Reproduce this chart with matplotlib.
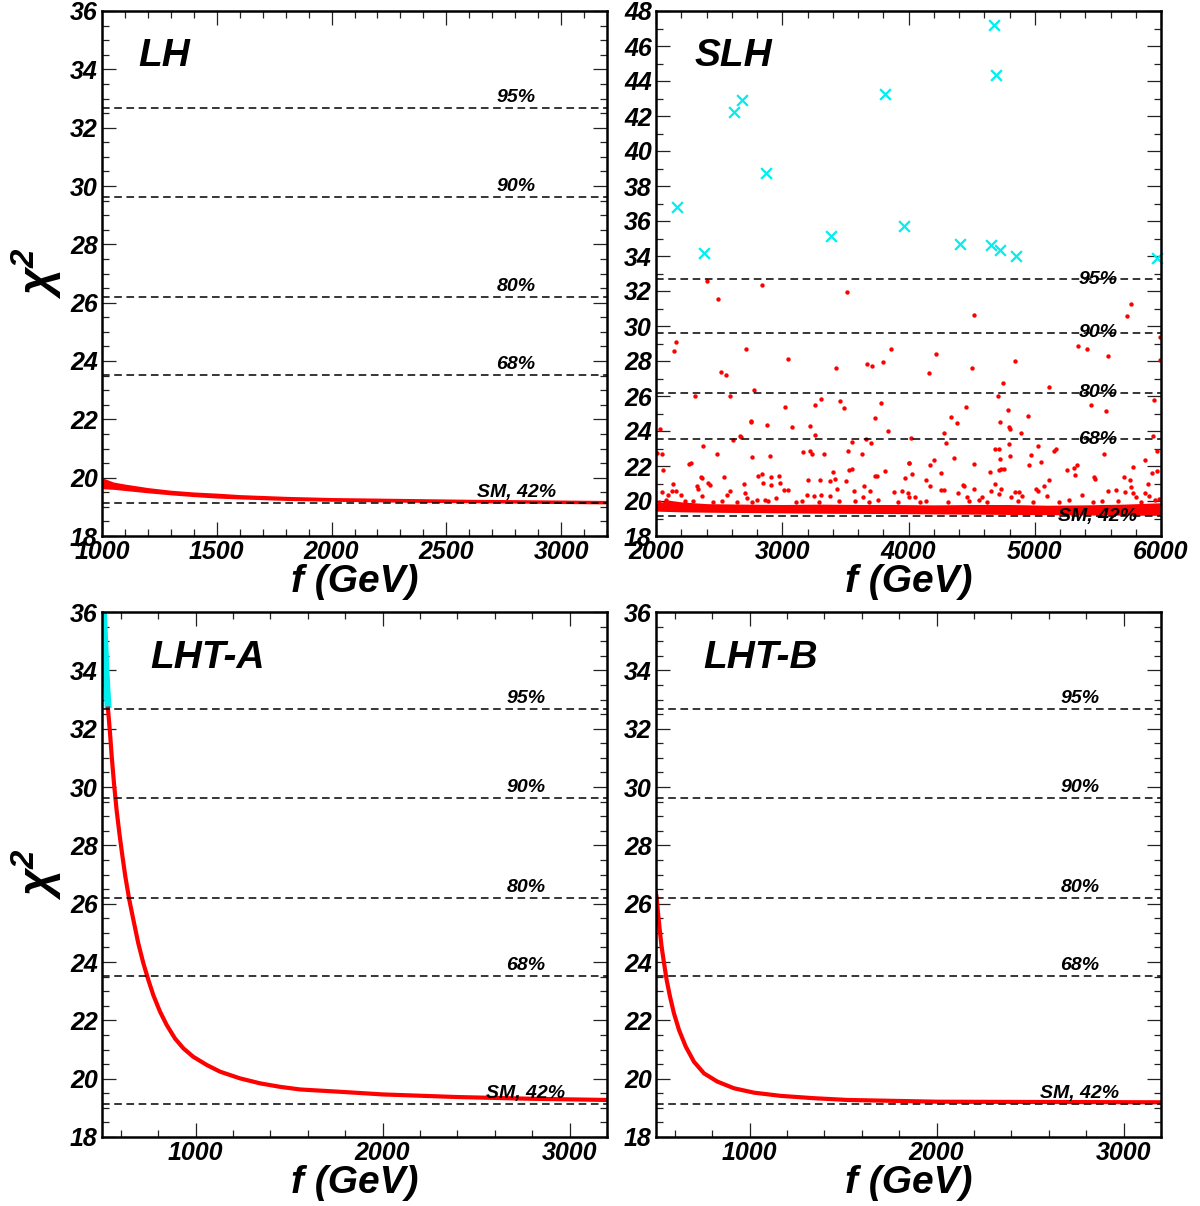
import matplotlib
matplotlib.use("Agg")
import matplotlib.pyplot as plt
from matplotlib.ticker import MultipleLocator

plt.rcParams["font.family"] = ["Liberation Sans", "DejaVu Sans"]
plt.rcParams["font.weight"] = "bold"
plt.rcParams["font.style"] = "italic"
plt.rcParams["axes.labelweight"] = "bold"
plt.rcParams["mathtext.fontset"] = "custom"
plt.rcParams["mathtext.rm"] = "Liberation Sans"
plt.rcParams["mathtext.bf"] = "Liberation Sans:bold"
plt.rcParams["mathtext.it"] = "Liberation Sans:italic:bold"

# chi2 confidence levels
cl_values = [32.67, 29.62, 26.19, 23.52, 19.12]
cl_labels = ["95%", "90%", "80%", "68%", "SM, 42%"]

# LH: thin band
lh_f = [1000, 1050, 1100, 1200, 1300, 1400, 1500, 1600, 1800, 2000, 2300, 2600, 2900, 3200]
lh_lo = [19.62, 19.60, 19.56, 19.48, 19.41, 19.35, 19.30, 19.27, 19.22, 19.19, 19.16, 19.14, 19.12, 19.10]
lh_hi = [20.00, 19.85, 19.78, 19.66, 19.57, 19.51, 19.47, 19.42, 19.36, 19.32, 19.29, 19.26, 19.24, 19.22]

# SLH: dense band near the SM value
slh_band_f = [2000, 2100, 2200, 2400, 2700, 3000, 3300, 3600, 3900, 4200, 4500, 4800, 5100, 5400, 5700, 6000]
slh_band_lo = [19.42, 19.40, 19.38, 19.36, 19.34, 19.32, 19.30, 19.29, 19.28, 19.26, 19.25, 19.23, 19.22, 19.20, 19.19, 19.18]
slh_band_hi = [19.85, 20.05, 19.95, 19.85, 19.82, 19.80, 19.82, 19.80, 19.80, 19.78, 19.80, 19.80, 19.76, 19.78, 19.82, 19.90]

# SLH: scattered points (red)
slh_f = [2407, 2494, 2842, 3510, 2158, 2143, 2710, 3048, 2515, 2557, 3423, 3674, 3713, 3798, 3861,
         2309, 2586, 2779, 3024, 3307, 3259, 3455, 3489, 3782, 3735, 2032, 2750, 2755, 2877, 3077,
         3222, 3837, 2665, 2673, 2612, 3259, 3663, 3700, 3555, 2011, 2045, 2370, 2483, 2763, 2903,
         3167, 3222, 3238, 3331, 3518, 3634, 2055, 2264, 2275, 3526, 3552, 3814, 4004, 2356, 2367,
         2325, 2335, 2541, 2412, 2428, 2694, 2808, 2840, 2845, 2908, 2911, 2972, 2985, 3016, 3048,
         3204, 3299, 3378, 3399, 3420, 3436, 3502, 3566, 3642, 3647, 3695, 3735, 3748, 3888, 3975,
         2135, 2048, 2124, 2158, 2098, 2195, 2586, 2560, 2362, 2702, 2723, 2800, 2866, 2950, 3199,
         3254, 3307, 3381, 4006, 3951,
         4020, 4165, 4218, 4516, 4506, 4846, 4751, 4706, 5110, 4455, 4339, 4384, 4788, 4946, 4722,
         4799, 4807, 4281, 4294, 4891, 4793, 4804, 4685, 4717, 4725, 4970, 5028, 5049, 4954, 5152,
         5166, 4363, 4202, 4168, 4516, 4643, 4714, 4735, 4759, 4004, 4025, 4255, 4136, 4170, 4284,
         4392, 4429, 4437, 4463, 4521, 4656, 4682, 4735, 4714, 4814, 4846, 4878, 4902, 5010, 5023,
         5073, 5110, 5100, 5253, 5308, 5321, 5335, 5377, 5340, 5411, 5583, 5728, 5760, 5443, 5562,
         5546, 5467, 5480, 5707, 5781, 5871, 5583, 5643, 5715, 5765, 5757, 5775, 5802, 5894, 5926,
         5968, 5939, 5966, 5944, 5992, 5992, 5873, 5905, 5987, 4585, 4257, 4052, 3999]
slh_chi2 = [32.55, 31.56, 32.36, 31.96, 29.09, 28.59, 28.69, 28.13, 27.37, 27.20, 27.62, 27.85, 27.71, 27.94, 28.69,
            25.98, 26.02, 26.34, 25.37, 25.85, 25.47, 25.73, 25.31, 25.62, 24.72, 24.11, 24.59, 24.51, 24.34, 24.21,
            24.29, 24.02, 23.73, 23.64, 23.49, 23.79, 23.54, 23.33, 23.37, 22.76, 22.67, 23.14, 22.70, 22.53, 22.57,
            22.82, 22.88, 22.70, 22.70, 22.88, 22.70, 21.77, 22.13, 22.19, 21.77, 21.81, 21.73, 22.15, 21.37, 21.31,
            20.86, 20.67, 21.37, 21.05, 20.93, 20.95, 21.45, 21.54, 21.05, 21.39, 20.91, 21.43, 21.05, 20.65, 20.63,
            21.18, 21.18, 21.12, 21.64, 21.27, 20.67, 21.16, 20.59, 20.21, 20.86, 20.55, 21.45, 21.43, 20.49, 21.31,
            20.99, 20.51, 20.57, 20.55, 20.34, 20.34, 20.57, 20.32, 20.27, 20.48, 20.19, 20.04, 20.08, 20.15, 20.34,
            20.29, 20.32, 20.30, 20.25, 20.57,
            23.60, 27.33, 28.40, 30.65, 27.60, 27.98, 26.76, 26.02, 26.53, 25.37, 24.80, 24.48, 25.18, 24.84, 24.49,
            24.21, 24.10, 23.90, 23.30, 23.90, 23.24, 22.57, 22.97, 22.97, 22.40, 22.65, 23.12, 22.23, 22.07, 22.88,
            22.95, 22.46, 22.34, 22.04, 22.11, 21.66, 21.79, 21.81, 21.85, 22.17, 21.56, 21.58, 21.22, 20.86, 20.65,
            20.44, 20.89, 20.84, 20.25, 20.70, 20.57, 20.97, 20.67, 20.40, 20.23, 20.53, 20.53, 20.30, 20.70, 20.59,
            20.88, 21.18, 20.30, 21.77, 21.87, 21.49, 22.06, 20.34, 28.88, 28.67, 28.27, 30.55, 31.28, 25.50, 25.14,
            22.67, 21.35, 21.26, 21.39, 21.96, 22.34, 20.55, 20.63, 20.49, 20.82, 21.18, 20.44, 20.25, 20.97, 21.58,
            21.70, 23.71, 22.86, 25.77, 29.39, 28.06, 20.44, 20.29, 20.09, 20.25, 20.63, 20.25, 20.44]

# SLH: fuzz just above the dense band
slh_fuzz_f = [2020, 2080, 2230, 2290, 2450, 2520, 2640, 2760, 2890, 3110, 3160, 3290, 3450, 3580, 3690, 3760,
              3920, 4090, 4140, 4310, 4480, 4560, 4620, 4870, 4990, 5190, 5270, 5460, 5530, 5660, 5840, 5950]
slh_fuzz_chi2 = [19.95, 20.05, 20.00, 19.98, 19.95, 20.02, 19.96, 19.97, 20.00, 19.95, 20.02, 19.94, 19.98, 20.00,
                 19.95, 20.05, 19.97, 19.95, 20.02, 19.93, 19.98, 20.05, 19.95, 20.00, 19.92, 19.97, 20.03, 19.95,
                 19.98, 20.02, 19.95, 20.05]

# SLH: excluded points (cyan crosses)
slh_x_f = [2170, 2379, 2618, 2685, 2869, 3390, 3811, 3968, 4404, 4652, 4679, 4691, 4724, 4848, 5968]
slh_x_chi2 = [36.80, 34.17, 42.25, 42.94, 38.76, 35.13, 43.23, 35.73, 34.66, 34.61, 47.18, 44.37, 34.35, 33.99, 33.86]

# LHT-A curve
lhta_f = [532, 534, 543, 552, 564, 578, 593, 607, 625, 646, 668, 694, 721, 748, 774, 810, 846, 890, 935, 988,
          1060, 1131, 1238, 1345, 1452, 1559, 1800, 2000, 2400, 2800, 3200]
lhta_chi2 = [32.69, 32.53, 31.84, 31.04, 30.13, 29.21, 28.41, 27.73, 26.92, 26.13, 25.44, 24.64, 23.96, 23.38,
             22.87, 22.30, 21.84, 21.38, 21.04, 20.75, 20.47, 20.24, 20.01, 19.84, 19.72, 19.63, 19.54, 19.46,
             19.37, 19.31, 19.27]
lhta_cyan_f = [505, 510, 516, 521, 527, 533]
lhta_cyan_chi2 = [36.3, 35.6, 34.8, 34.0, 33.3, 32.7]

# LHT-B curve
lhtb_f = [500, 503, 511, 520, 530, 543, 557, 575, 596, 623, 659, 703, 757, 828, 917, 1024, 1167, 1345, 1523,
          2004, 2600, 3200]
lhtb_chi2 = [26.35, 26.24, 25.67, 25.10, 24.52, 23.96, 23.38, 22.81, 22.24, 21.67, 21.10, 20.58, 20.18, 19.90,
             19.67, 19.52, 19.41, 19.33, 19.27, 19.21, 19.20, 19.19]

fig = plt.figure(figsize=(12, 12.06), dpi=100)
W, H = 1200.0, 1206.0


def make_axes(x0, y0, x1, y1):
    return fig.add_axes([x0 / W, 1 - y1 / H, (x1 - x0) / W, (y1 - y0) / H])


ax_lh = make_axes(102, 11, 607, 536)
ax_slh = make_axes(656, 11, 1161, 536)
ax_a = make_axes(102, 612, 607, 1137)
ax_b = make_axes(656, 612, 1161, 1137)


def style(ax, xlim, ylim, xmaj, xmin, ymaj, ymin):
    ax.set_xlim(xlim)
    ax.set_ylim(ylim)
    ax.xaxis.set_major_locator(MultipleLocator(xmaj))
    ax.xaxis.set_minor_locator(MultipleLocator(xmin))
    ax.yaxis.set_major_locator(MultipleLocator(ymaj))
    ax.yaxis.set_minor_locator(MultipleLocator(ymin))
    ax.tick_params(which="both", direction="in", top=True, right=True, width=0.9, color="#222222")
    ax.tick_params(which="major", length=10, labelsize=18, pad=3)
    ax.tick_params(which="minor", length=5)
    for sp in ax.spines.values():
        sp.set_linewidth(1.8)
    ax.set_xlabel("f (GeV)", fontsize=28, labelpad=0)


def cl_lines(ax, xpos, offset, va):
    for v, lab in zip(cl_values, cl_labels):
        ax.axhline(v, color="black", lw=1.1, ls=(0, (5, 3)), zorder=3)
        ax.text(xpos, v + offset, lab, fontsize=14, ha="center", va=va, zorder=4)


# LH
style(ax_lh, (1000, 3200), (18, 36), 500, 100, 2, 0.5)
ax_lh.fill_between(lh_f, lh_lo, lh_hi, color="red", lw=0, zorder=2)
cl_lines(ax_lh, 2804, 0.36, "center")
ax_lh.text(0.071, 0.895, "LH", transform=ax_lh.transAxes, fontsize=28, va="baseline")
ax_lh.set_ylabel(r"$\mathrm{\chi}^{\mathbf{2}}$", fontsize=34, labelpad=4)

# SLH
style(ax_slh, (2000, 6000), (18, 48), 1000, 200, 2, 1)
ax_slh.fill_between(slh_band_f, slh_band_lo, slh_band_hi, color="red", lw=0, zorder=2)
ax_slh.scatter(slh_fuzz_f, slh_fuzz_chi2, s=10, color="red", linewidths=0, zorder=2)
ax_slh.scatter(slh_f, slh_chi2, s=10, color="red", linewidths=0, zorder=2)
ax_slh.scatter(slh_x_f, slh_x_chi2, s=60, marker="x", color="#00eeee", linewidths=1.6, zorder=2, clip_on=False)
cl_lines(ax_slh, 5500, 0.0, "center")
ax_slh.text(0.077, 0.895, "SLH", transform=ax_slh.transAxes, fontsize=28, va="baseline")

# LHT-A
style(ax_a, (500, 3200), (18, 36), 1000, 200, 2, 0.5)
ax_a.plot(lhta_cyan_f, lhta_cyan_chi2, color="#00eeee", lw=5, solid_capstyle="butt", zorder=2)
ax_a.plot(lhta_f, lhta_chi2, color="red", lw=3, zorder=2)
cl_lines(ax_a, 2767, 0.36, "center")
ax_a.text(0.095, 0.893, "LHT-A", transform=ax_a.transAxes, fontsize=28, va="baseline")
ax_a.set_ylabel(r"$\mathrm{\chi}^{\mathbf{2}}$", fontsize=34, labelpad=4)

# LHT-B
style(ax_b, (500, 3200), (18, 36), 1000, 200, 2, 0.5)
ax_b.plot(lhtb_f, lhtb_chi2, color="red", lw=3, zorder=2)
cl_lines(ax_b, 2767, 0.36, "center")
ax_b.text(0.093, 0.893, "LHT-B", transform=ax_b.transAxes, fontsize=28, va="baseline")

fig.savefig("out.png", dpi=100)
